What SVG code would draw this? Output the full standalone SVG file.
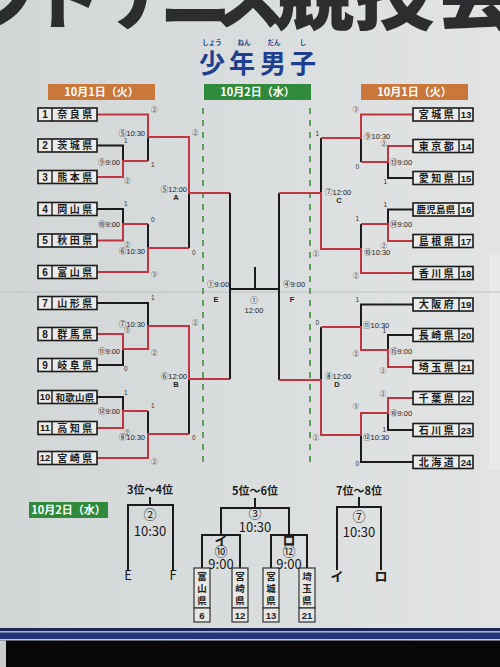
<svg xmlns="http://www.w3.org/2000/svg" width="500" height="667" viewBox="0 0 500 667">
<defs>
<linearGradient id="bg" x1="0" y1="0" x2="1" y2="0">
<stop offset="0" stop-color="#d2d6d7"/>
<stop offset="1" stop-color="#e2e4e4"/>
</linearGradient>
<style>
.t{font-family:"Liberation Sans","Noto Sans CJK JP",sans-serif;}
.j{font-family:"Noto Sans CJK JP","Liberation Sans",sans-serif;}
.sc{font-size:6.5px;fill:#333;}
.ml{font-size:7.5px;fill:#222;}
.box{fill:#ebebe9;stroke:#1a1a1a;stroke-width:1.6;}
.div{stroke:#1a1a1a;stroke-width:1.4;}
.num{font-size:10px;font-weight:bold;fill:#1a1a1a;text-anchor:middle;}
.nr{font-size:9.5px;font-weight:bold;fill:#1a1a1a;text-anchor:middle;}
.nm{font-size:10px;font-weight:bold;fill:#1a1a1a;text-anchor:middle;letter-spacing:2.5px;}
.nm4{font-size:9.5px;font-weight:bold;fill:#1a1a1a;text-anchor:middle;letter-spacing:0.3px;}
.w{stroke:#c0353f;stroke-width:2;fill:none;}
.l{stroke:#1b1b1b;stroke-width:2;fill:none;}
.g{stroke:#3d8f3d;stroke-width:1.6;stroke-dasharray:6 6;fill:none;}
.date{font-size:11px;fill:#ffffff;text-anchor:middle;font-weight:bold;}
.e{text-anchor:end;}
.m{text-anchor:middle;}
.bt{font-size:13px;fill:#1a1a1a;text-anchor:middle;}
.bl{font-size:11px;font-weight:bold;fill:#1a1a1a;text-anchor:middle;}
.vb{fill:#e6e6e4;stroke:#333;stroke-width:1.2;}
.vt{font-size:9.5px;font-weight:bold;fill:#222;text-anchor:middle;}
.fu{font-size:6.5px;text-anchor:middle;}
</style>
</defs>
<rect x="0" y="0" width="500" height="667" fill="url(#bg)"/>
<rect x="489" y="255" width="11" height="215" fill="#e8eaea"/>
<line x1="0" y1="292" x2="500" y2="292" stroke="#bdc1c2" stroke-width="1"/>

<!-- title -->
<g id="title" class="j" fill="#2b2d2e" font-weight="900">
<text y="23" font-size="72"><tspan x="-30">フ</tspan><tspan x="30">ト</tspan><tspan x="103">テ</tspan><tspan x="160">ニ</tspan><tspan x="213">ス</tspan></text>
<text y="23" font-size="80"><tspan x="274">競</tspan><tspan x="354">技</tspan><tspan x="436">会</tspan></text>
</g>
<g id="subtitle" class="j" fill="#1e3f8f" font-weight="bold">
<text y="73" font-size="26"><tspan x="199">少</tspan><tspan x="229">年</tspan><tspan x="260">男</tspan><tspan x="290">子</tspan></text>
<text class="fu" x="212" y="45">しょう</text>
<text class="fu" x="244" y="45">ねん</text>
<text class="fu" x="274" y="45">だん</text>
<text class="fu" x="303" y="45">し</text>
</g>

<!-- date headers -->
<g id="date-left">
<rect x="48" y="84" width="107" height="16" fill="#c9773a"/>
<text class="j date" x="101.5" y="96">10月1日（火）</text>
</g>
<g id="date-center">
<rect x="204" y="84" width="107" height="16" fill="#2f8a3c"/>
<text class="j date" x="257.5" y="96">10月2日（水）</text>
</g>
<g id="date-right">
<rect x="361" y="84" width="107" height="16" fill="#c9773a"/>
<text class="j date" x="414.5" y="96">10月1日（火）</text>
</g>

<!-- connectors -->
<g id="connectors">
<line class="g" x1="203" y1="108" x2="203" y2="467"/>
<line class="g" x1="310" y1="108" x2="310" y2="467"/>
<!-- left top -->
<path class="l" d="M97 145.5H123V161"/>
<path class="l" d="M148 137V161"/>
<path class="l" d="M189 193V248"/>
<path class="l" d="M97 209H123V224"/>
<path class="l" d="M148 224V248"/>
<path class="w" d="M97 114.5H148V137H189V193H230"/>
<path class="w" d="M97 177H123V161H148"/>
<path class="w" d="M97 240.5H123V224H148"/>
<path class="w" d="M97 272H148V248H189"/>
<!-- left bottom -->
<path class="l" d="M97 303H148V326"/>
<path class="l" d="M97 365H123V349"/>
<path class="l" d="M189 379V434"/>
<path class="l" d="M97 397H123V411"/>
<path class="l" d="M148 411V434"/>
<path class="w" d="M97 334H123V349H148V326H189V379H230"/>
<path class="w" d="M97 428H123V411H148"/>
<path class="w" d="M97 458H148V434H189"/>
<!-- center -->
<path class="l" d="M230 193V379"/>
<path class="l" d="M279 193V380"/>
<path class="l" d="M230 289H279"/>
<path class="l" d="M255 289V267"/>
<!-- right top -->
<path class="l" d="M361 138V162"/>
<path class="l" d="M413 178H388V162"/>
<path class="l" d="M321 138V193"/>
<path class="l" d="M413 209.5H388V224"/>
<path class="l" d="M361 224V249"/>
<path class="w" d="M413 114.5H361V138H321"/>
<path class="w" d="M413 146H388V162H361"/>
<path class="w" d="M413 241H388V224H361"/>
<path class="w" d="M413 273H361V249H321V193H279"/>
<!-- right bottom -->
<path class="l" d="M413 304.5H361V327"/>
<path class="l" d="M413 335H388V350"/>
<path class="l" d="M321 327V380"/>
<path class="l" d="M413 430H388V413"/>
<path class="l" d="M413 462H361V435"/>
<path class="w" d="M413 367H388V350H361V327H321"/>
<path class="w" d="M413 398H388V413H361V435H321V380H279"/>
<!-- bottom brackets -->
<path class="l" d="M150 497V505M128 570V505H173V570"/>
<path class="l" d="M255 498V508M221 535V508H289V535"/>
<path class="l" d="M202 568V535H240V568"/>
<path class="l" d="M271 568V535H307V568"/>
<path class="l" d="M359 497V507M337 570V507H381V570"/>
</g>

<!-- scores -->
<g id="scores" class="t sc">
<text x="151" y="112">②</text><text x="151" y="167">1</text>
<text x="124" y="143">1</text><text x="124" y="183">②</text>
<text x="192" y="135">②</text><text x="192" y="255">0</text>
<text x="124" y="206">1</text><text x="124" y="247">②</text>
<text x="151" y="222">0</text><text x="151" y="277">③</text>
<text x="151" y="300">1</text><text x="124" y="333">③</text>
<text x="151" y="355">②</text><text x="124" y="371">0</text>
<text x="192" y="325">②</text><text x="192" y="440">0</text>
<text x="124" y="395">1</text><text x="124" y="435">②</text>
<text x="151" y="408">1</text><text x="151" y="464">②</text>
<g class="e">
<text x="359" y="112">③</text><text x="359" y="169">0</text>
<text x="387" y="146">②</text><text x="387" y="184">1</text>
<text x="319" y="136">1</text><text x="319" y="256">②</text>
<text x="387" y="207">1</text><text x="387" y="248">②</text>
<text x="359" y="221">1</text><text x="359" y="278">②</text>
<text x="359" y="302">1</text><text x="359" y="356">②</text>
<text x="386" y="333">1</text><text x="386" y="373">②</text>
<text x="319" y="325">0</text><text x="319" y="440">②</text>
<text x="386" y="396">②</text><text x="386" y="432">1</text>
<text x="359" y="409">③</text><text x="359" y="466">0</text>
</g>
</g>

<!-- match labels -->
<g id="matches" class="t ml">
<g class="e">
<text x="120" y="165">⑨9:00</text>
<text x="145" y="136">⑤10:30</text>
<text x="120" y="227">⑩9:00</text>
<text x="145" y="254">⑥10:30</text>
<text x="187" y="192">⑤12:00</text>
<text x="145" y="327">⑦10:30</text>
<text x="120" y="354">⑪9:00</text>
<text x="120" y="414">⑫9:00</text>
<text x="145" y="440">⑧10:30</text>
<text x="187" y="379">⑥12:00</text>
</g>
<text x="176" y="200" class="m" font-weight="bold">A</text>
<text x="176" y="387" class="m" font-weight="bold">B</text>
<text x="207" y="287">①9:00</text>
<text x="216" y="302" class="m" font-weight="bold">E</text>
<text x="254" y="303" class="m">①</text>
<text x="254" y="313" class="m">12:00</text>
<text x="283" y="287">④9:00</text>
<text x="292" y="302" class="m" font-weight="bold">F</text>
<text x="364" y="139">⑨10:30</text>
<text x="390" y="165">⑬9:00</text>
<text x="325" y="195">⑦12:00</text>
<text x="339" y="203" class="m" font-weight="bold">C</text>
<text x="390" y="227">⑭9:00</text>
<text x="364" y="255">⑩10:30</text>
<text x="363" y="328">⑪10:30</text>
<text x="390" y="354">⑮9:00</text>
<text x="390" y="416">⑯9:00</text>
<text x="363" y="440">⑫10:30</text>
<text x="325" y="379">⑧12:00</text>
<text x="337" y="387" class="m" font-weight="bold">D</text>
</g>

<!-- teams left -->
<g id="team1"><rect class="box" x="38" y="108" width="59" height="13"/><line class="div" x1="52" y1="108" x2="52" y2="121"/><text class="t num" x="45" y="118">1</text><text class="j nm" x="76" y="118">奈良県</text></g>
<g id="team2"><rect class="box" x="38" y="139" width="59" height="13"/><line class="div" x1="52" y1="139" x2="52" y2="152"/><text class="t num" x="45" y="149">2</text><text class="j nm" x="76" y="149">茨城県</text></g>
<g id="team3"><rect class="box" x="38" y="170.5" width="59" height="13"/><line class="div" x1="52" y1="170.5" x2="52" y2="183.5"/><text class="t num" x="45" y="180.5">3</text><text class="j nm" x="76" y="180.5">熊本県</text></g>
<g id="team4"><rect class="box" x="38" y="202.5" width="59" height="13"/><line class="div" x1="52" y1="202.5" x2="52" y2="215.5"/><text class="t num" x="45" y="212.5">4</text><text class="j nm" x="76" y="212.5">岡山県</text></g>
<g id="team5"><rect class="box" x="38" y="234" width="59" height="13"/><line class="div" x1="52" y1="234" x2="52" y2="247"/><text class="t num" x="45" y="244">5</text><text class="j nm" x="76" y="244">秋田県</text></g>
<g id="team6"><rect class="box" x="38" y="265.5" width="59" height="13"/><line class="div" x1="52" y1="265.5" x2="52" y2="278.5"/><text class="t num" x="45" y="275.5">6</text><text class="j nm" x="76" y="275.5">富山県</text></g>
<g id="team7"><rect class="box" x="38" y="296.5" width="59" height="13"/><line class="div" x1="52" y1="296.5" x2="52" y2="309.5"/><text class="t num" x="45" y="306.5">7</text><text class="j nm" x="76" y="306.5">山形県</text></g>
<g id="team8"><rect class="box" x="38" y="327.5" width="59" height="13"/><line class="div" x1="52" y1="327.5" x2="52" y2="340.5"/><text class="t num" x="45" y="337.5">8</text><text class="j nm" x="76" y="337.5">群馬県</text></g>
<g id="team9"><rect class="box" x="38" y="358.5" width="59" height="13"/><line class="div" x1="52" y1="358.5" x2="52" y2="371.5"/><text class="t num" x="45" y="368.5">9</text><text class="j nm" x="76" y="368.5">岐阜県</text></g>
<g id="team10"><rect class="box" x="38" y="390.5" width="59" height="13"/><line class="div" x1="52" y1="390.5" x2="52" y2="403.5"/><text class="t nr" x="45" y="400">10</text><text class="j nm4" x="75" y="400.5">和歌山県</text></g>
<g id="team11"><rect class="box" x="38" y="421.5" width="59" height="13"/><line class="div" x1="52" y1="421.5" x2="52" y2="434.5"/><text class="t nr" x="45" y="431">11</text><text class="j nm" x="76" y="431.5">高知県</text></g>
<g id="team12"><rect class="box" x="38" y="451.5" width="59" height="13"/><line class="div" x1="52" y1="451.5" x2="52" y2="464.5"/><text class="t nr" x="45" y="461">12</text><text class="j nm" x="76" y="461.5">宮崎県</text></g>

<!-- teams right -->
<g id="team13"><rect class="box" x="413" y="108" width="60" height="13"/><line class="div" x1="459" y1="108" x2="459" y2="121"/><text class="t nr" x="466" y="118">13</text><text class="j nm" x="437.5" y="118">宮城県</text></g>
<g id="team14"><rect class="box" x="413" y="139.5" width="60" height="13"/><line class="div" x1="459" y1="139.5" x2="459" y2="152.5"/><text class="t nr" x="466" y="149.5">14</text><text class="j nm" x="437.5" y="149.5">東京都</text></g>
<g id="team15"><rect class="box" x="413" y="171.5" width="60" height="13"/><line class="div" x1="459" y1="171.5" x2="459" y2="184.5"/><text class="t nr" x="466" y="181.5">15</text><text class="j nm" x="437.5" y="181.5">愛知県</text></g>
<g id="team16"><rect class="box" x="413" y="203" width="60" height="13"/><line class="div" x1="459" y1="203" x2="459" y2="216"/><text class="t nr" x="466" y="213">16</text><text class="j nm4" x="436" y="213">鹿児島県</text></g>
<g id="team17"><rect class="box" x="413" y="234.5" width="60" height="13"/><line class="div" x1="459" y1="234.5" x2="459" y2="247.5"/><text class="t nr" x="466" y="244.5">17</text><text class="j nm" x="437.5" y="244.5">島根県</text></g>
<g id="team18"><rect class="box" x="413" y="266.5" width="60" height="13"/><line class="div" x1="459" y1="266.5" x2="459" y2="279.5"/><text class="t nr" x="466" y="276.5">18</text><text class="j nm" x="437.5" y="276.5">香川県</text></g>
<g id="team19"><rect class="box" x="413" y="298" width="60" height="13"/><line class="div" x1="459" y1="298" x2="459" y2="311"/><text class="t nr" x="466" y="308">19</text><text class="j nm" x="437.5" y="308">大阪府</text></g>
<g id="team20"><rect class="box" x="413" y="328.5" width="60" height="13"/><line class="div" x1="459" y1="328.5" x2="459" y2="341.5"/><text class="t nr" x="466" y="338.5">20</text><text class="j nm" x="437.5" y="338.5">長崎県</text></g>
<g id="team21"><rect class="box" x="413" y="360.5" width="60" height="13"/><line class="div" x1="459" y1="360.5" x2="459" y2="373.5"/><text class="t nr" x="466" y="370.5">21</text><text class="j nm" x="437.5" y="370.5">埼玉県</text></g>
<g id="team22"><rect class="box" x="413" y="391.5" width="60" height="13"/><line class="div" x1="459" y1="391.5" x2="459" y2="404.5"/><text class="t nr" x="466" y="401.5">22</text><text class="j nm" x="437.5" y="401.5">千葉県</text></g>
<g id="team23"><rect class="box" x="413" y="423.5" width="60" height="13"/><line class="div" x1="459" y1="423.5" x2="459" y2="436.5"/><text class="t nr" x="466" y="433.5">23</text><text class="j nm" x="437.5" y="433.5">石川県</text></g>
<g id="team24"><rect class="box" x="413" y="455.5" width="60" height="13"/><line class="div" x1="459" y1="455.5" x2="459" y2="468.5"/><text class="t nr" x="466" y="465.5">24</text><text class="j nm" x="437.5" y="465.5">北海道</text></g>

<!-- placement matches -->
<g id="date-bottom">
<rect x="29" y="502" width="79" height="16" fill="#2f8a3c"/>
<text class="j date" x="68.5" y="514">10月2日（水）</text>
</g>
<g id="p34" class="j">
<text class="bl" x="150" y="494">3位～4位</text>
<text class="bt" x="150" y="519" font-size="11">②</text>
<text class="bt" x="150" y="536">10:30</text>
<text class="bt" x="128" y="580" font-size="11">E</text>
<text class="bt" x="173" y="580" font-size="11">F</text>
</g>
<g id="p56" class="j">
<text class="bl" x="255" y="495">5位～6位</text>
<text class="bt" x="255" y="518" font-size="10.5">③</text>
<text class="bt" x="255" y="532">10:30</text>
</g>
<g id="pi" class="j">
<text class="bt" x="221" y="545" font-size="11" font-weight="bold">イ</text>
<text class="bt" x="221" y="556" font-size="9.5">⑩</text>
<text class="bt" x="221" y="568.5" font-size="14">9:00</text>
</g>
<g id="pro" class="j">
<text class="bt" x="289" y="545" font-size="11" font-weight="bold">ロ</text>
<text class="bt" x="289" y="556" font-size="9.5">⑫</text>
<text class="bt" x="289" y="568.5" font-size="14">9:00</text>
</g>
<g id="p78" class="j">
<text class="bl" x="359" y="495">7位～8位</text>
<text class="bt" x="359" y="521" font-size="11">⑦</text>
<text class="bt" x="359" y="537">10:30</text>
<text class="bt" x="337" y="581" font-size="11" font-weight="bold">イ</text>
<text class="bt" x="381" y="581" font-size="11" font-weight="bold">ロ</text>
</g>
<g id="v6" class="j"><rect class="vb" x="194" y="568" width="16" height="40"/><rect class="vb" x="194" y="608" width="16" height="14"/><text class="vt" x="202" y="580">富</text><text class="vt" x="202" y="592">山</text><text class="vt" x="202" y="604">県</text><text class="vt t" x="202" y="619">6</text></g>
<g id="v12" class="j"><rect class="vb" x="232" y="568" width="16" height="40"/><rect class="vb" x="232" y="608" width="16" height="14"/><text class="vt" x="240" y="580">宮</text><text class="vt" x="240" y="592">崎</text><text class="vt" x="240" y="604">県</text><text class="vt t" x="240" y="619">12</text></g>
<g id="v13" class="j"><rect class="vb" x="263" y="568" width="16" height="40"/><rect class="vb" x="263" y="608" width="16" height="14"/><text class="vt" x="271" y="580">宮</text><text class="vt" x="271" y="592">城</text><text class="vt" x="271" y="604">県</text><text class="vt t" x="271" y="619">13</text></g>
<g id="v21" class="j"><rect class="vb" x="299" y="568" width="16" height="40"/><rect class="vb" x="299" y="608" width="16" height="14"/><text class="vt" x="307" y="580">埼</text><text class="vt" x="307" y="592">玉</text><text class="vt" x="307" y="604">県</text><text class="vt t" x="307" y="619">21</text></g>

<!-- bottom band -->
<rect x="0" y="628" width="500" height="3" fill="#1a2656"/>
<rect x="0" y="631" width="500" height="1.5" fill="#aab4c8"/>
<rect x="0" y="632.5" width="500" height="6.5" fill="#22347a"/>
<rect x="0" y="639" width="500" height="1.5" fill="#c3c9d6"/>
<rect x="0" y="640.5" width="500" height="26.5" fill="#070707"/>
<rect x="0" y="640.5" width="6" height="26.5" fill="#c9cccc"/>
</svg>
